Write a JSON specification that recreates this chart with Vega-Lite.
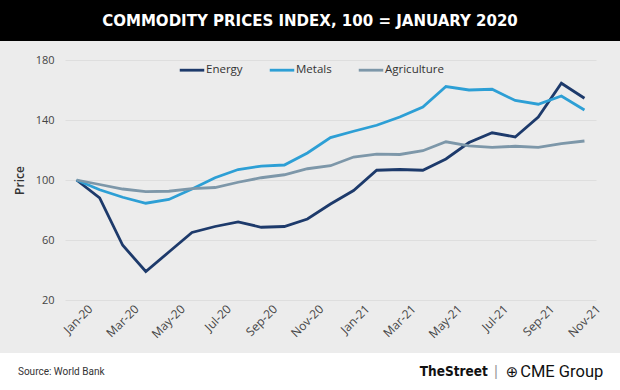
{
  "$schema": "https://vega.github.io/schema/vega-lite/v6.json",
  "background": "#ececec",
  "padding": 0,
  "spacing": 13,
  "config": {"view": {"stroke": null}, "font": "Open Sans"},
  "resolve": {"scale": {"color": "independent"}, "legend": {"color": "independent"}},
  "datasets": {
    "prices": [
      {"month": "Jan-20", "series": "Energy", "value": 100},
      {"month": "Feb-20", "series": "Energy", "value": 88},
      {"month": "Mar-20", "series": "Energy", "value": 56.5},
      {"month": "Apr-20", "series": "Energy", "value": 39},
      {"month": "May-20", "series": "Energy", "value": 52},
      {"month": "Jun-20", "series": "Energy", "value": 65},
      {"month": "Jul-20", "series": "Energy", "value": 69},
      {"month": "Aug-20", "series": "Energy", "value": 72},
      {"month": "Sep-20", "series": "Energy", "value": 68.5},
      {"month": "Oct-20", "series": "Energy", "value": 69},
      {"month": "Nov-20", "series": "Energy", "value": 74},
      {"month": "Dec-20", "series": "Energy", "value": 84},
      {"month": "Jan-21", "series": "Energy", "value": 93},
      {"month": "Feb-21", "series": "Energy", "value": 106.5},
      {"month": "Mar-21", "series": "Energy", "value": 107},
      {"month": "Apr-21", "series": "Energy", "value": 106.5},
      {"month": "May-21", "series": "Energy", "value": 114},
      {"month": "Jun-21", "series": "Energy", "value": 125},
      {"month": "Jul-21", "series": "Energy", "value": 131.5},
      {"month": "Aug-21", "series": "Energy", "value": 128.7},
      {"month": "Sep-21", "series": "Energy", "value": 142},
      {"month": "Oct-21", "series": "Energy", "value": 164.5},
      {"month": "Nov-21", "series": "Energy", "value": 154.5},
      {"month": "Jan-20", "series": "Metals", "value": 100},
      {"month": "Feb-20", "series": "Metals", "value": 93.5},
      {"month": "Mar-20", "series": "Metals", "value": 88.5},
      {"month": "Apr-20", "series": "Metals", "value": 84.5},
      {"month": "May-20", "series": "Metals", "value": 87},
      {"month": "Jun-20", "series": "Metals", "value": 94},
      {"month": "Jul-20", "series": "Metals", "value": 101.5},
      {"month": "Aug-20", "series": "Metals", "value": 107},
      {"month": "Sep-20", "series": "Metals", "value": 109.3},
      {"month": "Oct-20", "series": "Metals", "value": 110},
      {"month": "Nov-20", "series": "Metals", "value": 118},
      {"month": "Dec-20", "series": "Metals", "value": 128.3},
      {"month": "Jan-21", "series": "Metals", "value": 132.5},
      {"month": "Feb-21", "series": "Metals", "value": 136.5},
      {"month": "Mar-21", "series": "Metals", "value": 142},
      {"month": "Apr-21", "series": "Metals", "value": 148.7},
      {"month": "May-21", "series": "Metals", "value": 162.3},
      {"month": "Jun-21", "series": "Metals", "value": 160},
      {"month": "Jul-21", "series": "Metals", "value": 160.5},
      {"month": "Aug-21", "series": "Metals", "value": 153},
      {"month": "Sep-21", "series": "Metals", "value": 150.5},
      {"month": "Oct-21", "series": "Metals", "value": 156},
      {"month": "Nov-21", "series": "Metals", "value": 146.7},
      {"month": "Jan-20", "series": "Agriculture", "value": 100},
      {"month": "Feb-20", "series": "Agriculture", "value": 97},
      {"month": "Mar-20", "series": "Agriculture", "value": 94},
      {"month": "Apr-20", "series": "Agriculture", "value": 92.3},
      {"month": "May-20", "series": "Agriculture", "value": 92.5},
      {"month": "Jun-20", "series": "Agriculture", "value": 94.3},
      {"month": "Jul-20", "series": "Agriculture", "value": 95},
      {"month": "Aug-20", "series": "Agriculture", "value": 98.5},
      {"month": "Sep-20", "series": "Agriculture", "value": 101.5},
      {"month": "Oct-20", "series": "Agriculture", "value": 103.5},
      {"month": "Nov-20", "series": "Agriculture", "value": 107.5},
      {"month": "Dec-20", "series": "Agriculture", "value": 109.5},
      {"month": "Jan-21", "series": "Agriculture", "value": 115.3},
      {"month": "Feb-21", "series": "Agriculture", "value": 117.3},
      {"month": "Mar-21", "series": "Agriculture", "value": 117},
      {"month": "Apr-21", "series": "Agriculture", "value": 119.5},
      {"month": "May-21", "series": "Agriculture", "value": 125.5},
      {"month": "Jun-21", "series": "Agriculture", "value": 122.7},
      {"month": "Jul-21", "series": "Agriculture", "value": 121.7},
      {"month": "Aug-21", "series": "Agriculture", "value": 122.5},
      {"month": "Sep-21", "series": "Agriculture", "value": 121.8},
      {"month": "Oct-21", "series": "Agriculture", "value": 124.3},
      {"month": "Nov-21", "series": "Agriculture", "value": 126}
    ]
  },
  "vconcat": [
    {
      "width": 620,
      "height": 41,
      "view": {"fill": "#000000", "stroke": null},
      "data": {"values": [{"title": "COMMODITY PRICES INDEX, 100 = JANUARY 2020"}]},
      "mark": {"type": "text", "color": "#ffffff", "font": "DejaVu Sans Condensed, sans-serif", "fontWeight": "bold", "fontSize": 16.7, "align": "center", "baseline": "middle"},
      "encoding": {"text": {"field": "title", "type": "nominal"}}
    },
    {
      "spacing": 0,
      "resolve": {"scale": {"color": "independent"}, "legend": {"color": "independent"}},
      "hconcat": [
        {
          "width": 13,
          "height": 10,
          "data": {"values": []},
          "mark": "point",
          "encoding": {}
        },
        {
          "width": 531,
          "height": 240,
          "data": {"name": "prices"},
          "mark": {"type": "line", "strokeWidth": 2.8},
          "encoding": {
            "x": {
              "field": "month", "type": "ordinal", "sort": null,
              "scale": {"type": "point", "padding": 0.5},
              "axis": {
                "title": null,
                "values": ["Jan-20", "Mar-20", "May-20", "Jul-20", "Sep-20", "Nov-20", "Jan-21", "Mar-21", "May-21", "Jul-21", "Sep-21", "Nov-21"],
                "labelAngle": -45, "labelAlign": "right", "labelBaseline": "top",
                "labelPadding": 3, "labelOffset": 10,
                "ticks": false, "domain": false, "grid": false,
                "labelFontSize": 12, "labelColor": "#444444", "labelFont": "Open Sans"
              }
            },
            "y": {
              "field": "value", "type": "quantitative",
              "scale": {"domain": [20, 180], "nice": false, "zero": false},
              "axis": {
                "title": "Price", "values": [20, 60, 100, 140, 180],
                "ticks": false, "domain": false, "grid": true, "gridColor": "#dedede", "gridWidth": 1,
                "labelPadding": 11, "labelFontSize": 11, "labelColor": "#444444", "labelFont": "Open Sans",
                "titleFontSize": 12, "titleFontWeight": 600, "titleColor": "#333333", "titleFont": "Open Sans", "titlePadding": 9
              }
            },
            "color": {
              "field": "series", "type": "nominal",
              "scale": {"domain": ["Energy", "Metals", "Agriculture"], "range": ["#1d3a6b", "#2d9fd5", "#7d97a9"]},
              "legend": {
                "title": null, "orient": "none", "legendX": 113, "legendY": -4, "direction": "horizontal",
                "symbolType": "stroke", "symbolSize": 600, "symbolStrokeWidth": 2.8,
                "labelFontSize": 11.5, "labelColor": "#333333", "labelFont": "Open Sans", "labelOffset": 0, "columnPadding": 21
              }
            }
          }
        }
      ]
    },
    {
      "width": 620,
      "height": 38,
      "view": {"fill": "#ffffff", "stroke": null},
      "data": {"values": [{"source": "Source: World Bank", "brand": "TheStreet", "sep": "|", "globe": "⊕", "partner": "CME Group"}]},
      "layer": [
        {
          "mark": {"type": "text", "align": "left", "baseline": "middle", "fontSize": 10, "color": "#333333", "font": "Roboto"},
          "encoding": {"text": {"field": "source", "type": "nominal"}, "x": {"datum": 0.029, "type": "quantitative", "scale": {"domain": [0, 1], "nice": false}, "axis": null}}
        },
        {
          "mark": {"type": "text", "align": "left", "baseline": "middle", "fontSize": 13.5, "fontWeight": "bold", "color": "#111111", "font": "DejaVu Sans Condensed, sans-serif"},
          "encoding": {"text": {"field": "brand", "type": "nominal"}, "x": {"datum": 0.677, "type": "quantitative"}}
        },
        {
          "mark": {"type": "text", "align": "center", "baseline": "middle", "fontSize": 16, "color": "#999999", "font": "Roboto"},
          "encoding": {"text": {"field": "sep", "type": "nominal"}, "x": {"datum": 0.8, "type": "quantitative"}}
        },
        {
          "mark": {"type": "text", "align": "center", "baseline": "middle", "fontSize": 15, "color": "#111111", "font": "DejaVu Sans"},
          "encoding": {"text": {"field": "globe", "type": "nominal"}, "x": {"datum": 0.826, "type": "quantitative"}}
        },
        {
          "mark": {"type": "text", "align": "right", "baseline": "middle", "fontSize": 16.5, "color": "#111111", "font": "Roboto"},
          "encoding": {"text": {"field": "partner", "type": "nominal"}, "x": {"datum": 0.973, "type": "quantitative"}}
        }
      ]
    }
  ]
}
